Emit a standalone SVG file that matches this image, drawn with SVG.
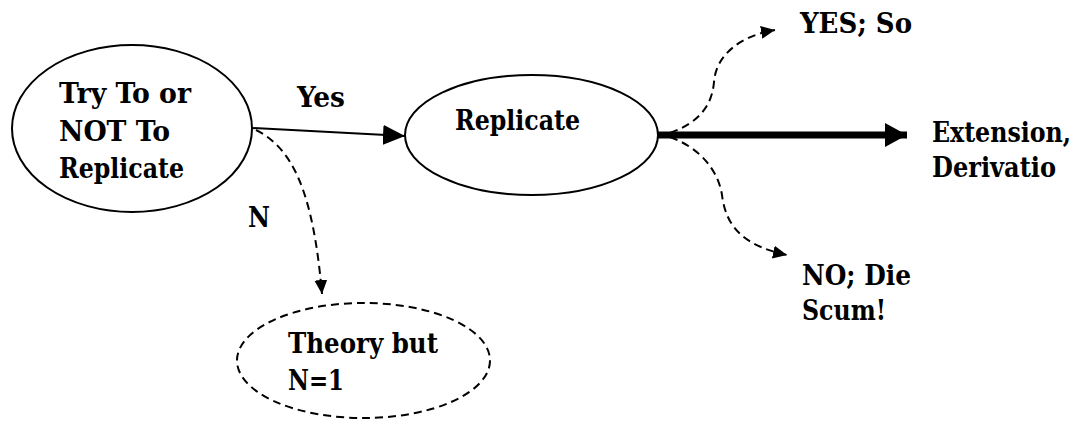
<svg xmlns="http://www.w3.org/2000/svg" width="1081" height="425" viewBox="0 0 1081 425">
  <style>
    text { font-family: 'DejaVu Serif', 'Liberation Serif', serif; font-stretch: condensed; font-weight: bold; font-size: 28px; fill: #000; }
    .node { fill: #fff; stroke: #000; stroke-width: 2; }
    .dash { fill: none; stroke: #000; stroke-width: 2; stroke-dasharray: 8 5; }
    .solid { fill: none; stroke: #000; stroke-width: 2; }
    .thick { fill: none; stroke: #000; stroke-width: 7; }
  </style>
  <defs>
    <marker id="tri" viewBox="0 0 14 13" refX="14" refY="6.5" markerWidth="14" markerHeight="13" markerUnits="userSpaceOnUse" orient="auto">
      <path d="M0,0 L14,6.5 L0,13 Z" fill="#000"/>
    </marker>
    <marker id="triBig" viewBox="0 0 22 24" refX="22" refY="12" markerWidth="22" markerHeight="24" markerUnits="userSpaceOnUse" orient="auto">
      <path d="M0,0 L22,12 L0,24 Z" fill="#000"/>
    </marker>
    <marker id="triMid" viewBox="0 0 22 20" refX="22" refY="10" markerWidth="22" markerHeight="20" markerUnits="userSpaceOnUse" orient="auto">
      <path d="M0,0 L22,10 L0,20 Z" fill="#000"/>
    </marker>
  </defs>

  <rect width="1081" height="425" fill="#fff"/>

  <g id="connectors">
    <!-- Yes: decision to Replicate -->
    <path class="solid" d="M252,128 L405,136" marker-end="url(#triMid)"/>
    <!-- N: decision to the dashed outcome -->
    <path class="dash" d="M256,130 C292,148 313,190 322,294" marker-end="url(#tri)"/>
    <!-- main flow onward -->
    <path class="thick" d="M658,135 L907,135" marker-end="url(#triBig)"/>
    <!-- YES branch -->
    <path class="dash" d="M670,133 C700,122 712,105 714,82 C716,55 740,36 775,30" marker-end="url(#tri)"/>
    <!-- NO branch -->
    <path class="dash" d="M670,137 C700,148 718,170 722,195 C726,228 745,246 787,255" marker-end="url(#tri)"/>
  </g>

  <g id="node-decision">
    <ellipse class="node" cx="132" cy="128.5" rx="120" ry="83.5"/>
    <text x="59" y="103" textLength="132" lengthAdjust="spacingAndGlyphs">Try To or</text>
    <text x="59" y="141" textLength="111" lengthAdjust="spacingAndGlyphs">NOT To</text>
    <text x="59" y="178" textLength="125" lengthAdjust="spacingAndGlyphs">Replicate</text>
  </g>

  <g id="label-yes">
    <text x="297" y="107" textLength="48" lengthAdjust="spacingAndGlyphs">Yes</text>
  </g>

  <g id="label-n">
    <text x="248" y="227" textLength="22" lengthAdjust="spacingAndGlyphs">N</text>
  </g>

  <g id="node-replicate">
    <ellipse class="node" cx="531.5" cy="135" rx="126.5" ry="60"/>
    <text x="455" y="130" textLength="125" lengthAdjust="spacingAndGlyphs">Replicate</text>
  </g>

  <g id="node-theory">
    <ellipse class="dash" cx="363.5" cy="360.5" rx="126.5" ry="57.5"/>
    <text x="288" y="353" textLength="150" lengthAdjust="spacingAndGlyphs">Theory but</text>
    <text x="288" y="390" textLength="56" lengthAdjust="spacingAndGlyphs">N=1</text>
  </g>

  <g id="node-extension">
    <text x="932" y="142" textLength="139" lengthAdjust="spacingAndGlyphs">Extension,</text>
    <text x="932" y="177" textLength="124" lengthAdjust="spacingAndGlyphs">Derivatio</text>
  </g>

  <g id="node-yes">
    <text x="800" y="33" textLength="112" lengthAdjust="spacingAndGlyphs">YES; So</text>
  </g>

  <g id="node-no">
    <text x="802" y="285" textLength="109" lengthAdjust="spacingAndGlyphs">NO; Die</text>
    <text x="802" y="320" textLength="84" lengthAdjust="spacingAndGlyphs">Scum!</text>
  </g>
</svg>
